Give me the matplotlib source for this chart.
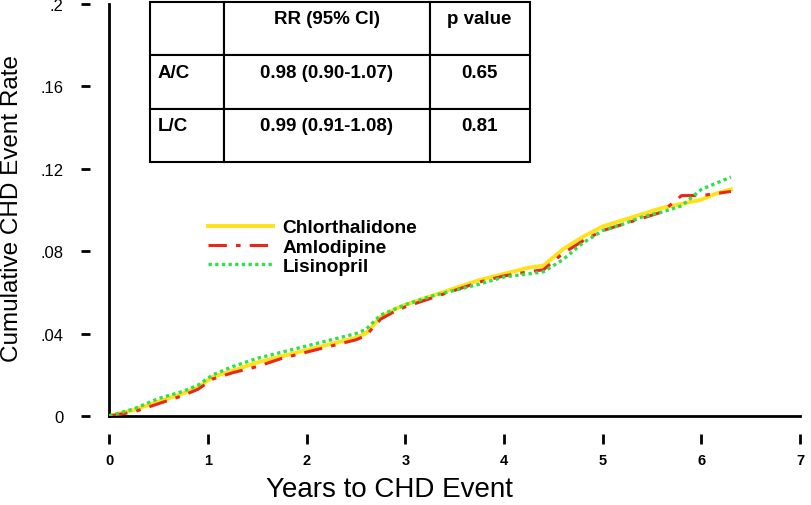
import numpy as np
import matplotlib
matplotlib.use('Agg')
import matplotlib.pyplot as plt

plt.rcParams['font.family'] = ['Liberation Sans', 'DejaVu Sans']

# years of follow-up
years = [0, 0.25, 0.5, 0.75, 0.9, 1.05, 1.25, 1.5, 1.75, 2.0, 2.25, 2.5, 2.6,
         2.75, 2.9, 3.0, 3.25, 3.5, 3.75, 4.0, 4.25, 4.4, 4.5, 4.6, 4.8, 5.0,
         5.2, 5.4, 5.6, 5.8, 6.0, 6.15, 6.3]

chlorthalidone = [0, 0.003, 0.007, 0.011, 0.014, 0.019, 0.022, 0.026, 0.029,
                  0.032, 0.035, 0.038, 0.040, 0.048, 0.052, 0.054, 0.058,
                  0.062, 0.066, 0.069, 0.072, 0.073, 0.077, 0.081, 0.087,
                  0.092, 0.095, 0.098, 0.101, 0.103, 0.105, 0.108, 0.110]

amlodipine = [0, 0.002, 0.006, 0.010, 0.013, 0.018, 0.021, 0.024, 0.028,
              0.031, 0.034, 0.037, 0.039, 0.047, 0.051, 0.053, 0.057, 0.061,
              0.065, 0.068, 0.070, 0.071, 0.075, 0.079, 0.085, 0.090, 0.093,
              0.096, 0.099, 0.107, 0.107, 0.108, 0.109]

lisinopril = [0, 0.0035, 0.0085, 0.012, 0.015, 0.020, 0.024, 0.028, 0.031,
              0.034, 0.037, 0.040, 0.042, 0.049, 0.052, 0.054, 0.058, 0.061,
              0.064, 0.0675, 0.069, 0.070, 0.073, 0.076, 0.084, 0.090, 0.093,
              0.0966, 0.099, 0.102, 0.110, 0.113, 0.116]

xticks = [0, 1, 2, 3, 4, 5, 6, 7]
yticks = [0, 0.04, 0.08, 0.12, 0.16, 0.2]
ytick_labels = ['0', '.04', '.08', '.12', '.16', '.2']

# table of relative risks
table_cols = ['', 'RR (95% CI)', 'p value']
table_rows = [['A/C', '0.98 (0.90-1.07)', '0.65'],
              ['L/C', '0.99 (0.91-1.08)', '0.81']]

PX = 72.0 / 100  # points per pixel at dpi 100

fig = plt.figure(figsize=(8.12, 5.06), dpi=100)
ax = fig.add_axes([0.1346, 0.1759, 0.8506, 0.8142])

ax.plot(years, chlorthalidone, color='#ffe21a', lw=2.8, ls='-',
        label='Chlorthalidone', zorder=3)
ax.plot(years, amlodipine, color='#e8261a', lw=2.2, ls=(0, (6, 3, 1.5, 3)),
        label='Amlodipine', zorder=4)
ax.plot(years, lisinopril, color='#2ee04a', lw=2.4, ls=(0, (1, 1)),
        label='Lisinopril', zorder=5)

ax.set_xlim(0, 7)
ax.set_ylim(0, 0.2)

# axis lines at the data origin, ticks detached
ax.axvline(0, 0, 1, color='black', lw=2, clip_on=False)
ax.axhline(0, 0, 1, color='black', lw=2, clip_on=False)
for s in ['top', 'right']:
    ax.spines[s].set_visible(False)
ax.spines['left'].set_position(('outward', 19 * PX))
ax.spines['bottom'].set_position(('outward', 18 * PX))
ax.spines['left'].set_color('none')
ax.spines['bottom'].set_color('none')

ax.set_xticks(xticks)
ax.set_xticklabels([str(v) for v in xticks], fontsize=10.5, fontweight='bold')
ax.set_yticks(yticks)
ax.set_yticklabels(ytick_labels, fontsize=12)
ax.tick_params(axis='y', direction='out', length=9 * PX, width=2, pad=18 * PX)
ax.tick_params(axis='x', direction='out', length=10 * PX, width=2, pad=9 * PX)

ax.set_ylabel('Cumulative CHD Event Rate', fontsize=17.5)
ax.yaxis.set_label_coords(-0.141, 0.506)
ax.yaxis.label.set_va('center')
ax.set_xlabel('Years to CHD Event', fontsize=20)
ax.xaxis.set_label_coords(0.405, -0.177)
ax.xaxis.label.set_va('center')

leg = ax.legend(loc='upper left', bbox_to_anchor=(0.1429, 0.478),
                frameon=False, borderpad=0, borderaxespad=0,
                handlelength=3.4, handletextpad=0.5, labelspacing=0.1,
                prop={'weight': 'bold', 'size': 13.8})

# table: text sits in the upper part of each cell
cell_text = [[c + '\n' for c in table_cols]] + \
            [[c + '\n' for c in r] for r in table_rows]
tbl = ax.table(cellText=cell_text, colWidths=[0.1947, 0.5421, 0.2632],
               bbox=[0.0589, 0.6165, 0.5497, 0.388], cellLoc='center')
tbl.auto_set_font_size(False)
for (r, c), cell in tbl.get_celld().items():
    cell.set_linewidth(1.5)
    cell.set_edgecolor('black')
    cell.get_text().set_fontsize(13.5)
    cell.get_text().set_fontweight('bold')
    if c == 0:
        cell.get_text().set_ha('left')
        cell._loc = 'left'
tbl.set_clip_on(False)

fig.savefig('out.png', dpi=100)
